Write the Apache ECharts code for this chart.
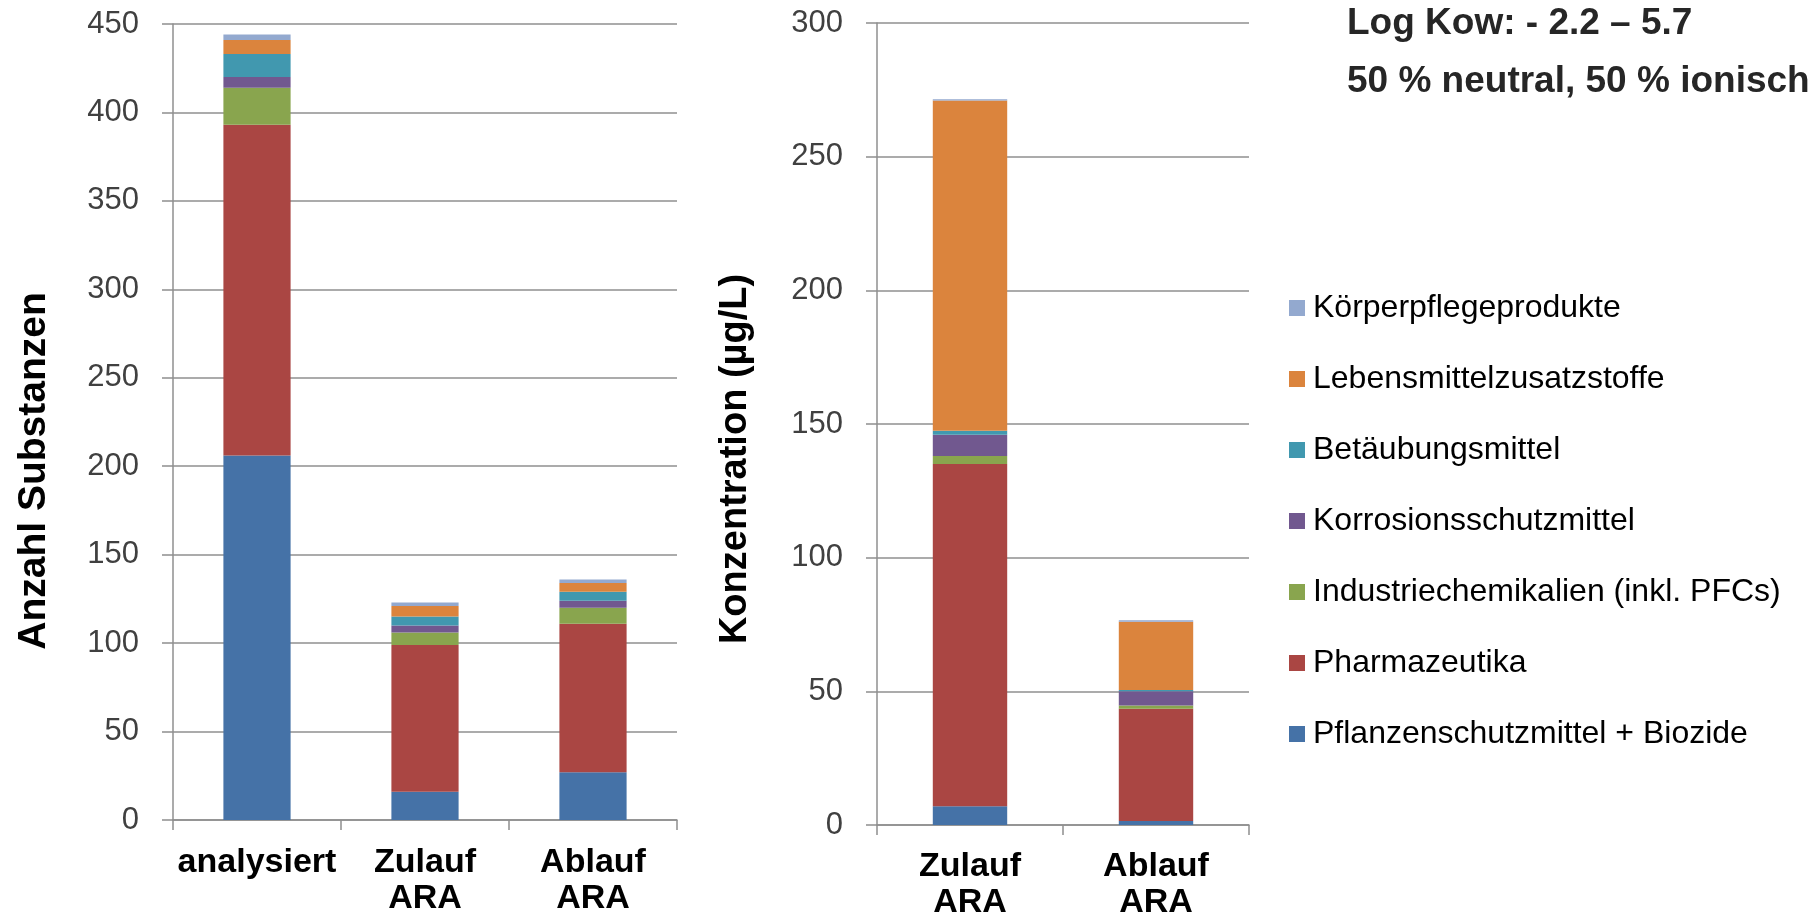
<!DOCTYPE html>
<html>
<head>
<meta charset="utf-8">
<script src="https://cdn.jsdelivr.net/npm/echarts@6/dist/echarts.min.js"></script>
<style>
  html, body { margin: 0; padding: 0; background: #fff; }
  #chart { width: 1817px; height: 917px; }
</style>
</head>
<body>
<div id="chart"></div>
<script>
// Categories
const countCategories = ['analysiert', 'Zulauf\nARA', 'Ablauf\nARA'];
const concCategories = ['Zulauf\nARA', 'Ablauf\nARA'];

// Substance groups (stack order, bottom to top)
const groupNames = [
  'Pflanzenschutzmittel + Biozide',
  'Pharmazeutika',
  'Industriechemikalien (inkl. PFCs)',
  'Korrosionsschutzmittel',
  'Betäubungsmittel',
  'Lebensmittelzusatzstoffe',
  'Körperpflegeprodukte'
];
const groupColors = ['#4572A7', '#AA4643', '#89A54E', '#71588F', '#4198AF', '#DB843D', '#93A9CF'];

// Number of substances per group (analysiert, Zulauf ARA, Ablauf ARA)
const countPflanzenschutz = [206, 16, 27];
const countPharma = [187, 83, 84];
const countIndustrie = [21, 7, 9];
const countKorrosion = [6, 4, 4];
const countBetaeubung = [13, 5, 5];
const countLebensmittel = [8, 6, 5];
const countKoerperpflege = [3, 2, 2];

// Concentration per group in µg/L (Zulauf ARA, Ablauf ARA)
const concPflanzenschutz = [7, 1.5];
const concPharma = [128, 42];
const concIndustrie = [3, 1.2];
const concKorrosion = [8, 5.3];
const concBetaeubung = [1.5, 0.5];
const concLebensmittel = [123.5, 25.5];
const concKoerperpflege = [0.5, 0.6];

// Axis ticks
const countAxis = { min: 0, max: 450, interval: 50 };
const concAxis = { min: 0, max: 300, interval: 50 };

const countData = [countPflanzenschutz, countPharma, countIndustrie, countKorrosion, countBetaeubung, countLebensmittel, countKoerperpflege];
const concData = [concPflanzenschutz, concPharma, concIndustrie, concKorrosion, concBetaeubung, concLebensmittel, concKoerperpflege];

const FONT = '"Liberation Sans", Arial, sans-serif';
const GRID_COLOR = '#8f8f8f';

function valueAxis(gridIndex, cfg) {
  return {
    type: 'value', gridIndex: gridIndex,
    min: cfg.min, max: cfg.max, interval: cfg.interval,
    axisLine: { show: true, lineStyle: { color: GRID_COLOR, width: 1.5 } },
    axisTick: { show: true, length: 11, lineStyle: { color: GRID_COLOR, width: 1.5 } },
    splitLine: { show: true, lineStyle: { color: GRID_COLOR, width: 1.5 } },
    axisLabel: { color: '#404040', fontSize: 31, fontFamily: FONT, margin: 34 }
  };
}
function categoryAxis(gridIndex, cats, margin) {
  return {
    type: 'category', gridIndex: gridIndex, data: cats,
    axisLine: { show: true, lineStyle: { color: GRID_COLOR, width: 1.5 } },
    axisTick: { show: true, length: 10, lineStyle: { color: GRID_COLOR, width: 1.5 } },
    axisLabel: { color: '#000', fontSize: 34, fontWeight: 'bold', fontFamily: FONT, margin: margin, lineHeight: 36, interval: 0 }
  };
}

const series = [];
groupNames.forEach((name, i) => {
  series.push({
    name: name, type: 'bar', stack: 'count', xAxisIndex: 0, yAxisIndex: 0,
    barWidth: '40%', data: countData[i],
    itemStyle: { color: groupColors[i] }
  });
});
groupNames.forEach((name, i) => {
  series.push({
    name: name, type: 'bar', stack: 'conc', xAxisIndex: 1, yAxisIndex: 1,
    barWidth: '40%', data: concData[i],
    itemStyle: { color: groupColors[i] }
  });
});

const chart = echarts.init(document.getElementById('chart'), null, { renderer: 'canvas' });
chart.setOption({
  animation: false,
  backgroundColor: '#ffffff',
  grid: [
    { left: 173, top: 24, width: 504, height: 796, outerBoundsMode: 'none', containLabel: false },
    { left: 877, top: 23, width: 372, height: 802, outerBoundsMode: 'none', containLabel: false }
  ],
  xAxis: [categoryAxis(0, countCategories, 25), categoryAxis(1, concCategories, 24)],
  yAxis: [valueAxis(0, countAxis), valueAxis(1, concAxis)],
  legend: {
    orient: 'vertical', left: 1284, top: 287,
    itemWidth: 16, itemHeight: 16, itemGap: 39,
    icon: 'rect',
    data: groupNames.slice().reverse(),
    selectedMode: false,
    textStyle: { fontSize: 32, fontFamily: FONT, color: '#000', lineHeight: 32, padding: [0, 0, 0, 3] }
  },
  graphic: [
    { type: 'text', x: 34, y: 471, rotation: Math.PI / 2,
      style: { text: 'Anzahl Substanzen', font: 'bold 39px ' + FONT, fill: '#000', align: 'center', verticalAlign: 'middle' } },
    { type: 'text', x: 736, y: 459, rotation: Math.PI / 2,
      style: { text: 'Konzentration (µg/L)', font: 'bold 38px ' + FONT, fill: '#000', align: 'center', verticalAlign: 'middle' } },
    { type: 'text', x: 1347, y: 24,
      style: { text: 'Log Kow: - 2.2 – 5.7', font: 'bold 37px ' + FONT, fill: '#262626', align: 'left', verticalAlign: 'middle' } },
    { type: 'text', x: 1347, y: 82,
      style: { text: '50 % neutral, 50 % ionisch', font: 'bold 37px ' + FONT, fill: '#262626', align: 'left', verticalAlign: 'middle' } }
  ],
  series: series
});
</script>
</body>
</html>
